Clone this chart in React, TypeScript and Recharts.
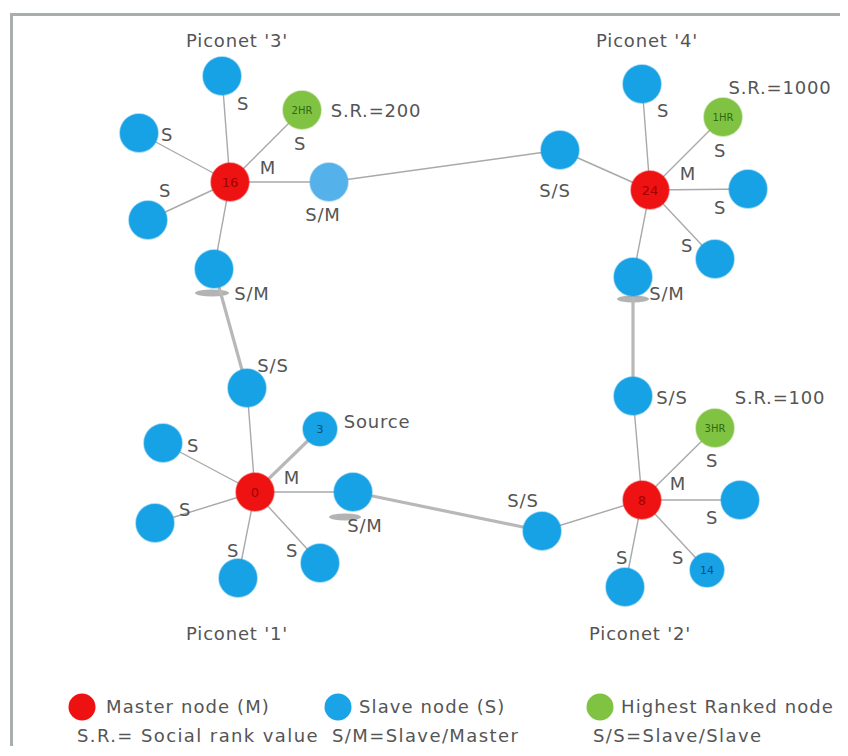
import React from "react";
import { ScatterChart, Scatter, XAxis, YAxis } from "recharts";

// ---- data (diagram coordinates) ----
const masterNodes = [
  { id: "m16", x: 230, y: 182, tag: "16" },
  { id: "m24", x: 650, y: 190, tag: "24" },
  { id: "m0", x: 255, y: 492, tag: "0" },
  { id: "m8", x: 642, y: 500, tag: "8" },
];

const slaveNodes = [
  // piconet 3
  { id: "p3a", x: 222, y: 76, tag: "" },
  { id: "p3b", x: 139, y: 133, tag: "" },
  { id: "p3c", x: 148, y: 220, tag: "" },
  { id: "p3d", x: 214, y: 269, tag: "" },
  // piconet 4
  { id: "p4a", x: 642, y: 84, tag: "" },
  { id: "p4b", x: 560, y: 150, tag: "" },
  { id: "p4c", x: 748, y: 189, tag: "" },
  { id: "p4d", x: 715, y: 259, tag: "" },
  { id: "p4e", x: 633, y: 277, tag: "" },
  // piconet 1
  { id: "p1a", x: 247, y: 388, tag: "" },
  { id: "p1b", x: 163, y: 443, tag: "" },
  { id: "p1c", x: 353, y: 492, tag: "" },
  { id: "p1d", x: 155, y: 523, tag: "" },
  { id: "p1e", x: 238, y: 578, tag: "" },
  { id: "p1f", x: 320, y: 563, tag: "" },
  // piconet 2
  { id: "p2a", x: 633, y: 396, tag: "" },
  { id: "p2b", x: 740, y: 500, tag: "" },
  { id: "p2c", x: 542, y: 531, tag: "" },
  { id: "p2d", x: 625, y: 587, tag: "" },
];

const smallSlaveNodes = [
  { id: "src3", x: 320, y: 429, tag: "3" },
  { id: "n14", x: 707, y: 570, tag: "14" },
];

const bridgeMasterNodes = [{ id: "p3sm", x: 329, y: 182, tag: "" }];

const rankedNodes = [
  { id: "hr2", x: 302, y: 110, tag: "2HR" },
  { id: "hr1", x: 723, y: 117, tag: "1HR" },
  { id: "hr3", x: 715, y: 428, tag: "3HR" },
];

const thinLinks: [string, string][] = [
  ["m16", "p3a"], ["m16", "p3b"], ["m16", "p3c"], ["m16", "p3d"], ["m16", "hr2"], ["m16", "p3sm"],
  ["p3sm", "p4b"],
  ["m24", "p4a"], ["m24", "p4b"], ["m24", "hr1"], ["m24", "p4c"], ["m24", "p4d"], ["m24", "p4e"],
  ["m0", "p1a"], ["m0", "p1b"], ["m0", "p1c"], ["m0", "p1d"], ["m0", "p1e"], ["m0", "p1f"],
  ["m8", "p2a"], ["m8", "hr3"], ["m8", "p2b"], ["m8", "p2c"], ["m8", "p2d"], ["m8", "n14"],
];

const thickLinks: [string, string][] = [
  ["p3d", "p1a"],
  ["p4e", "p2a"],
  ["p1c", "p2c"],
  ["m0", "src3"],
];

const bridgeShadows = [
  { x: 212, y: 293, w: 34 },
  { x: 633, y: 299, w: 32 },
  { x: 345, y: 517, w: 32 },
];

const textLabels = [
  // piconet 3
  { t: "Piconet '3'", x: 237, y: 40 },
  { t: "S", x: 243, y: 103 },
  { t: "S.R.=200", x: 376, y: 110 },
  { t: "S", x: 167, y: 134 },
  { t: "S", x: 300, y: 143 },
  { t: "M", x: 268, y: 167 },
  { t: "S", x: 165, y: 190 },
  { t: "S/M", x: 323, y: 214 },
  { t: "S/M", x: 252, y: 293 },
  // piconet 4
  { t: "Piconet '4'", x: 647, y: 40 },
  { t: "S.R.=1000", x: 780, y: 87 },
  { t: "S", x: 663, y: 110 },
  { t: "S", x: 720, y: 150 },
  { t: "M", x: 688, y: 173 },
  { t: "S/S", x: 555, y: 190 },
  { t: "S", x: 720, y: 207 },
  { t: "S", x: 687, y: 245 },
  { t: "S/M", x: 667, y: 293 },
  // piconet 1
  { t: "S/S", x: 273, y: 365 },
  { t: "Source", x: 377, y: 421 },
  { t: "S", x: 193, y: 445 },
  { t: "M", x: 292, y: 477 },
  { t: "S", x: 185, y: 509 },
  { t: "S/M", x: 365, y: 525 },
  { t: "S", x: 233, y: 550 },
  { t: "S", x: 292, y: 550 },
  { t: "Piconet '1'", x: 237, y: 633 },
  // piconet 2
  { t: "S/S", x: 672, y: 397 },
  { t: "S.R.=100", x: 780, y: 397 },
  { t: "S", x: 712, y: 460 },
  { t: "M", x: 678, y: 483 },
  { t: "S/S", x: 523, y: 500 },
  { t: "S", x: 712, y: 517 },
  { t: "S", x: 622, y: 557 },
  { t: "S", x: 678, y: 557 },
  { t: "Piconet '2'", x: 640, y: 633 },
];

const legendRow1 = [
  { label: "Master node (M)", color: "#ee1111", cx: 82, tx: 106 },
  { label: "Slave node (S)", color: "#1aa3e6", cx: 338, tx: 359 },
  { label: "Highest Ranked node", color: "#80c242", cx: 600, tx: 621 },
];
const legendRow2 = [
  { label: "S.R.= Social rank value", tx: 77 },
  { label: "S/M=Slave/Master", tx: 332 },
  { label: "S/S=Slave/Slave", tx: 593 },
];

// ---- helpers ----
const allNodes = [...masterNodes, ...slaveNodes, ...smallSlaveNodes, ...bridgeMasterNodes, ...rankedNodes];
const nodeById = (id: string) => allNodes.find((n) => n.id === id)!;
const segment = (pair: [string, string]) => {
  const a = nodeById(pair[0]);
  const b = nodeById(pair[1]);
  return [{ x: a.x, y: a.y }, { x: b.x, y: b.y }];
};

const FONT = "'DejaVu Sans', Verdana, sans-serif";
const TEXT = "#555";
const W = 832;
const H = 738;

const makeNode = (fill: string, r: number, tagColor: string, tagSize: number) => (props: any) => {
  const { cx, cy, payload } = props;
  if (cx == null || cy == null) return <g />;
  return (
    <g>
      <circle cx={cx} cy={cy} r={r} fill={fill} stroke={fill} strokeOpacity={0.5} strokeWidth={1.5} />
      {payload.tag ? (
        <text x={cx} y={cy} textAnchor="middle" dominantBaseline="central" fontFamily={FONT} fontSize={tagSize} fill={tagColor}>
          {payload.tag}
        </text>
      ) : null}
    </g>
  );
};

const noDot = () => <g />;

const ShadowShape = (props: any) => {
  const { cx, cy, payload } = props;
  if (cx == null) return <g />;
  return <ellipse cx={cx} cy={cy} rx={payload.w / 2} ry={3.5} fill="#9a9a9a" opacity={0.75} />;
};

const TextShape = (props: any) => {
  const { cx, cy, payload } = props;
  if (cx == null) return <g />;
  return (
    <text x={cx} y={cy} textAnchor="middle" dominantBaseline="central" fontFamily={FONT} fontSize={18} letterSpacing={0.8} fill={TEXT}>
      {payload.t}
    </text>
  );
};

export default function App() {
  return (
    <div style={{ position: "relative", width: W, height: H, background: "#fff", overflow: "hidden" }}>
      <style>{"html,body{overflow:hidden;}"}</style>
      <div
        style={{
          position: "absolute",
          left: 2,
          top: 5,
          width: W + 20,
          height: H + 20,
          borderLeft: "3px solid #a8aeae",
          borderTop: "3px solid #a8aeae",
          boxSizing: "border-box",
        }}
      />
      <div style={{ position: "absolute", left: 0, top: 0 }}>
        <ScatterChart width={W} height={H} margin={{ top: 0, right: 0, bottom: 0, left: 0 }}>
          <XAxis type="number" dataKey="x" domain={[8, 8 + W]} hide allowDataOverflow />
          <YAxis type="number" dataKey="y" domain={[8, 8 + H]} reversed hide allowDataOverflow />
          {thinLinks.map((p, i) => (
            <Scatter
              key={"thin" + i}
              data={segment(p)}
              line={{ stroke: "#a9a9a9", strokeWidth: 1.4 }}
              shape={noDot}
              isAnimationActive={false}
            />
          ))}
          <Scatter data={bridgeShadows} shape={ShadowShape} isAnimationActive={false} />
          {thickLinks.map((p, i) => (
            <Scatter
              key={"thick" + i}
              data={segment(p)}
              line={{ stroke: "#b8b8b8", strokeWidth: 3.2 }}
              shape={noDot}
              isAnimationActive={false}
            />
          ))}
          <Scatter data={slaveNodes} shape={makeNode("#17a2e6", 19, "#0a5a8a", 12)} isAnimationActive={false} />
          <Scatter data={smallSlaveNodes} shape={makeNode("#17a2e6", 17, "#0b4f7a", 11)} isAnimationActive={false} />
          <Scatter data={bridgeMasterNodes} shape={makeNode("#55b1ea", 19, "#0a5a8a", 12)} isAnimationActive={false} />
          <Scatter data={masterNodes} shape={makeNode("#ef1212", 19, "#a00000", 13)} isAnimationActive={false} />
          <Scatter data={rankedNodes} shape={makeNode("#80c242", 19, "#2d6a10", 10)} isAnimationActive={false} />
          <Scatter data={textLabels} shape={TextShape} isAnimationActive={false} />
        </ScatterChart>
      </div>
      <svg style={{ position: "absolute", left: 0, top: 0 }} width={W} height={H} pointerEvents="none">
        <g transform="translate(-8,-8)">
          {legendRow1.map((d) => (
            <g key={d.label}>
              <circle cx={d.cx} cy={707} r={13.5} fill={d.color} />
              <text x={d.tx} y={713} fontFamily={FONT} fontSize={18} letterSpacing={1.1} fill={TEXT}>
                {d.label}
              </text>
            </g>
          ))}
          {legendRow2.map((d) => (
            <text key={d.label} x={d.tx} y={742} fontFamily={FONT} fontSize={18} letterSpacing={1.4} fill={TEXT}>
              {d.label}
            </text>
          ))}
        </g>
      </svg>
    </div>
  );
}
